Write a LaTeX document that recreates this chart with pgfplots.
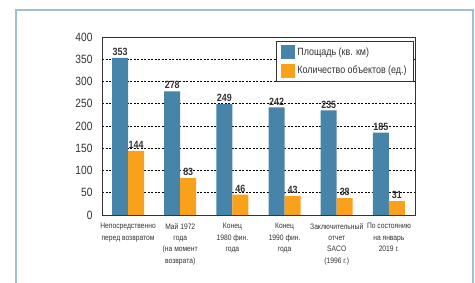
\documentclass[border=0pt]{standalone}
\usepackage{fontspec}
\setmainfont{Liberation Sans}[FakeStretch=0.85]
\usepackage{pgfplots}
\pgfplotsset{compat=1.18}
\definecolor{cblue}{HTML}{4684AA}
\definecolor{corange}{HTML}{F9A11B}
\definecolor{cframe}{HTML}{9DC0D4}
\definecolor{ctext}{HTML}{333333}
\begin{document}
\begin{tikzpicture}
\path[use as bounding box] (0pt,0pt) rectangle (475pt,283pt);
\draw[cframe, line width=1.5pt] (16pt,-10pt) rectangle (473pt,273pt);
\begin{axis}[
  at={(102pt,68pt)}, anchor=south west,
  width=313pt, height=178pt, scale only axis,
  ymin=0, ymax=400, xmin=-0.5, xmax=5.5,
  ybar=0pt, bar width=16pt,
  ytick={0,50,...,400},
  xtick={0,...,5},
  xticklabels={{Непосредственно\\перед возвратом},{Май 1972\\года\\(на момент\\возврата)},{Конец\\1980 фин.\\года},{Конец\\1990 фин.\\года},{Заключительный\\отчет\\SACO\\(1996 г.)},{По состоянию\\на январь\\2019 г.}},
  xticklabel style={align=center, font=\fontsize{7.9}{11.3}\selectfont, text=ctext, yshift=-5pt},
  yticklabel style={font=\fontsize{12}{13}\selectfont, text=ctext, xshift=-6pt},
  /pgf/number format/assume math mode=true,
  major tick length=0pt,
  axis on top=false,
  ymajorgrids, grid style={black, dash pattern=on 2pt off 1.5pt, line width=0.5pt},
  axis line style={ctext, line width=0.8pt},
  nodes near coords,
  every node near coord/.append style={font=\bfseries\fontsize{10.5}{11}\selectfont, text=ctext, inner sep=2pt},
  legend style={at={(rel axis cs:0.997,0.978)}, anchor=north east, draw=ctext, line width=0.8pt,
    font=\fontsize{10.5}{11}\selectfont, text=ctext, row sep=4.5pt, inner xsep=5pt, inner ysep=4pt},
  legend cell align=left,
  legend image code/.code={\fill[#1,draw=none] (0pt,-7pt) rectangle (14pt,7pt);},
]
\addplot[fill=cblue, draw=none] coordinates {(0,353) (1,278) (2,249) (3,242) (4,235) (5,185)};
\addplot[fill=corange, draw=none] coordinates {(0,144) (1,83) (2,46) (3,43) (4,38) (5,31)};
\legend{Площадь (кв. км), Количество объектов (ед.)}
\end{axis}
\end{tikzpicture}
\end{document}
